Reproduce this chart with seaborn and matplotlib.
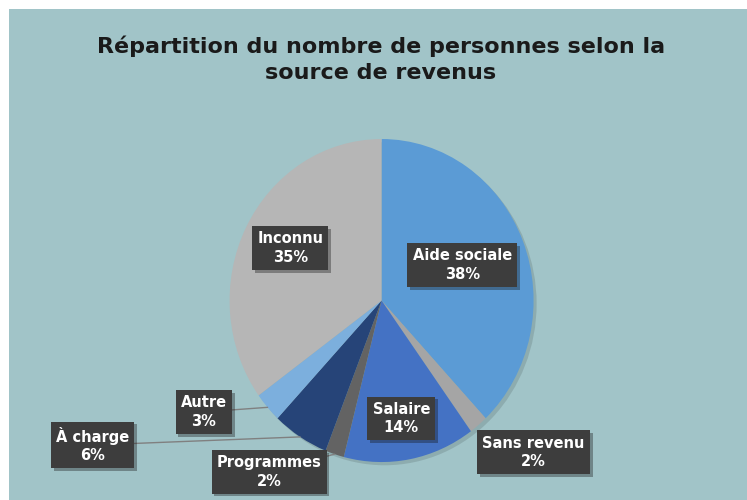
import numpy as np
import matplotlib
matplotlib.use("Agg")
import matplotlib.pyplot as plt
import matplotlib.patheffects as pe
import seaborn as sns

# Données du graphique
categories = ["Aide sociale", "Sans revenu", "Salaire", "Programmes", "À charge", "Autre", "Inconnu"]
parts = [38, 2, 14, 2, 6, 3, 35]
couleurs = ["#5B9BD5", "#A5A5A5", "#4472C4", "#636363", "#264478", "#7CAFDD", "#B6B6B6"]
titre = "Répartition du nombre de personnes selon la\nsource de revenus"

# Position des étiquettes (coordonnées de l'axe, rayon du camembert = 1)
pos_etiquettes = [(0.53, 0.22), (1.0, -0.94), (0.13, -0.73), (-0.74, -1.06),
                  (-1.90, -0.895), (-1.17, -0.69), (-0.60, 0.325)]
avec_trait = [False, False, False, True, True, True, False]

sns.set_theme(style="white")
plt.rcParams["font.family"] = ["DejaVu Sans"]

fond = "#A1C4C8"
fig = plt.figure(figsize=(7.47, 5.0), dpi=100, facecolor="white")
ax = fig.add_axes([9 / 747, 0, 738 / 747, 491 / 500])

wedges, _ = ax.pie(parts, colors=couleurs, startangle=90, counterclock=False,
                   radius=1, wedgeprops=dict(linewidth=0))

# ombre légère sous le camembert
ombre = plt.Circle((0.02, -0.02), 1.0, color="black", alpha=0.12, zorder=0.5, lw=0)
ax.add_patch(ombre)

ax.set_frame_on(True)
ax.set_facecolor(fond)
ax.set_aspect("auto")
ax.set_xlim(-2.451, 2.404)
ax.set_ylim(-1.235, 1.805)
ax.set_xticks([])
ax.set_yticks([])
for s in ax.spines.values():
    s.set_visible(False)

for w, cat, p, (lx, ly), trait in zip(wedges, categories, parts, pos_etiquettes, avec_trait):
    ang = np.deg2rad((w.theta1 + w.theta2) / 2)
    bord = (np.cos(ang), np.sin(ang))
    props = dict(arrowstyle="-", color="#808080", lw=1.0, shrinkA=0, shrinkB=0) if trait else None
    t = ax.annotate(f"{cat}\n{p}%", xy=bord, xytext=(lx, ly), ha="center", va="center",
                    color="white", fontsize=10.5, fontweight="bold", linespacing=1.3,
                    bbox=dict(boxstyle="square,pad=0.35", fc="#3D3D3D", ec="none"),
                    arrowprops=props, annotation_clip=False)
    t.get_bbox_patch().set_path_effects([pe.SimplePatchShadow(offset=(2, -2), alpha=0.35), pe.Normal()])

fig.text(381 / 747, 1 - 59 / 500, titre, ha="center", va="center", fontsize=16,
         fontweight="bold", color="#1A1A1A", linespacing=1.35)

fig.savefig("out.png", dpi=100, facecolor="white")
